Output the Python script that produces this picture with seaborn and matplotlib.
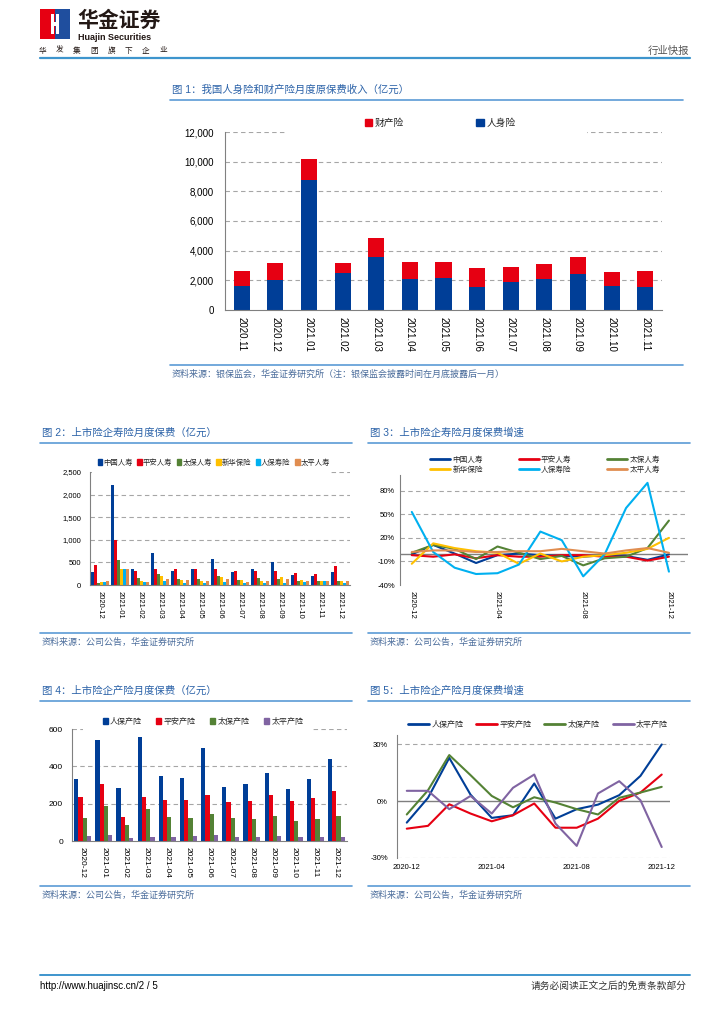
import numpy as np
import pandas as pd
import seaborn as sns
import matplotlib.pyplot as plt
from matplotlib.lines import Line2D
from matplotlib.patches import Rectangle, Patch
from matplotlib.ticker import FuncFormatter

sns.set_style('white')
plt.rcParams['font.family'] = ['Liberation Sans', 'Noto Sans CJK SC', 'DejaVu Sans']
plt.rcParams['axes.unicode_minus'] = False

# ---- data ----
months1 = ['2020.11', '2020.12', '2021.01', '2021.02', '2021.03', '2021.04', '2021.05',
           '2021.06', '2021.07', '2021.08', '2021.09', '2021.10', '2021.11']
life1 = [1620, 2030, 8740, 2480, 3600, 2095, 2140, 1555, 1915, 2095, 2430, 1600, 1555]
prop1 = [1015, 1120, 1440, 720, 1240, 1170, 1105, 1260, 1015, 1035, 1130, 990, 1080]

months2 = ['2020-12', '2021-01', '2021-02', '2021-03', '2021-04', '2021-05', '2021-06',
           '2021-07', '2021-08', '2021-09', '2021-10', '2021-11', '2021-12']
life_cos = ['中国人寿', '平安人寿', '太保人寿', '新华保险', '人保寿险', '太平人寿']
prem_china = [290, 2210, 360, 713, 301, 346, 574, 279, 360, 500, 220, 198, 279]
prem_pingan = [434, 1000, 316, 353, 346, 346, 346, 316, 309, 316, 272, 250, 412]
prem_cpic = [55, 559, 154, 235, 125, 140, 206, 103, 147, 140, 96, 96, 81]
prem_nci = [75, 350, 96, 191, 103, 81, 184, 103, 88, 176, 103, 96, 81]
prem_picc = [66, 355, 66, 88, 44, 44, 74, 51, 51, 51, 59, 81, 51]
prem_taiping = [81, 360, 59, 140, 110, 96, 140, 59, 81, 125, 81, 81, 81]

gr_china = [-1, 11, 0, -12, -2, 0, -2, -3, -4, -2, -3, -8, -1]
gr_pingan = [-2, -4, -1, -6, -2, -4, -4, -2, -2, -4, -4, -9, -4]
gr_cpic = [1, 11, 6, -7, 9, 1, -7, -3, -15, -6, -4, 7, 42]
gr_nci = [-13, 13, 7, 3, 1, -13, 0, -10, -4, -2, 1, 6, 20]
gr_picc = [53, 2, -18, -26, -25, -14, 28, 17, -29, -1, 58, 90, -23]
gr_taiping = [2, 4, 4, 2, 2, 3, 3, 6, 3, 0, 4, 7, 1]

pc_cos = ['人保产险', '平安产险', '太保产险', '太平产险']
pc_picc = [333, 539, 283, 555, 346, 338, 498, 288, 304, 364, 278, 331, 439]
pc_pingan = [238, 306, 131, 238, 218, 218, 245, 210, 213, 245, 213, 231, 270]
pc_cpic = [125, 188, 84, 170, 129, 122, 145, 122, 118, 133, 107, 118, 134]
pc_taiping = [27, 32, 16, 23, 23, 27, 32, 23, 20, 27, 23, 23, 23]

pcg_picc = [-11.3, 1.8, 22.9, 3.5, -8.8, -7.4, 9.4, -9.2, -4.2, -1.8, 3.2, 13.4, 30.0]
pcg_pingan = [-14.5, -13.0, -1.6, -6.5, -10.6, -7.4, -1.2, -14.0, -14.0, -9.2, 0.2, 4.6, 14.1]
pcg_cpic = [-7.0, 5.8, 24.4, 13.8, 2.8, -3.2, 2.1, -0.7, -4.2, -7.0, 1.8, 4.6, 7.6]
pcg_taiping = [5.5, 5.5, -4.2, 2.8, -6.5, 7.1, 14.1, -11.8, -23.6, 4.1, 10.6, 0.5, -24.2]

sparse_ticks = ['2020-12', '2021-04', '2021-08', '2021-12']

# ---- colours ----
BLUE = '#003E97'
RED = '#E60012'
GREEN = '#548235'
YELLOW = '#FFC000'
CYAN = '#00B0F0'
ORANGE = '#E08D50'
PURPLE = '#8064A2'
LINE_BLUE = '#5B9BD5'
TITLE_C = '#2B62A8'
SRC_C = '#4A6C9B'
GRID_C = '#A6A6A6'
AX_C = '#808080'

life_pal = dict(zip(life_cos, [BLUE, RED, GREEN, YELLOW, CYAN, ORANGE]))
pc_pal = dict(zip(pc_cos, [BLUE, RED, GREEN, PURPLE]))

W, H = 724, 1024
fig = plt.figure(figsize=(W / 100, H / 100), dpi=100)


def box(l, t, r, b):
    return fig.add_axes([l / W, 1 - b / H, (r - l) / W, (b - t) / H])


def hline(x0, x1, y, color=LINE_BLUE, lw=1.2):
    fig.add_artist(Line2D([x0 / W, x1 / W], [1 - y / H, 1 - y / H], color=color, lw=lw))


def ftext(x, y, s, **kw):
    kw.setdefault('va', 'center')
    fig.text(x / W, 1 - y / H, s, **kw)


def mask(x0, x1, y, h=4):
    fig.add_artist(Rectangle((x0 / W, 1 - (y + h / 2) / H), (x1 - x0) / W, h / H,
                             facecolor='white', edgecolor='none', zorder=2))


def flegend(handles, labels, x, y, ncol, **kw):
    return fig.legend(handles, labels, loc='center', bbox_to_anchor=(x / W, 1 - y / H),
                      ncol=ncol, frameon=False, **kw)


def style_axes(ax, fs, ypad):
    for s in ['top', 'right']:
        ax.spines[s].set_visible(False)
    for s in ['left', 'bottom']:
        ax.spines[s].set_color(AX_C)
        ax.spines[s].set_linewidth(0.8)
    ax.set_xlabel('')
    ax.set_ylabel('')
    ax.tick_params(axis='y', length=0, pad=ypad, labelsize=fs, colors='black')
    ax.tick_params(axis='x', length=0, labelsize=fs, colors='black')


def dash_grid(ax, levels):
    for v in levels:
        ax.axhline(v, color=GRID_C, lw=0.8, ls=(0, (4, 3)), zorder=0.5)


def block(xl, xr, t_y, title, src_y, src):
    ftext(xl + 2, t_y, title, fontsize=7.5, color=TITLE_C)
    hline(xl, xr, t_y + 10)
    hline(xl, xr, src_y)
    ftext(xl + 2, src_y + 9, src, fontsize=6.5, color=SRC_C, style='italic')


# ---- header / footer ----
fig.add_artist(Rectangle((40 / W, 1 - 39 / H), 15 / W, 30 / H, facecolor='#E60012', edgecolor='none'))
fig.add_artist(Rectangle((55 / W, 1 - 39 / H), 15 / W, 30 / H, facecolor='#1F4E9E', edgecolor='none'))
fig.add_artist(Rectangle((51 / W, 1 - 34 / H), 3 / W, 20 / H, facecolor='white', edgecolor='none'))
fig.add_artist(Rectangle((56 / W, 1 - 34 / H), 3 / W, 20 / H, facecolor='white', edgecolor='none'))
fig.add_artist(Rectangle((51 / W, 1 - 26 / H), 8 / W, 4 / H, facecolor='white', edgecolor='none'))
ftext(77, 21, '华金证券', fontsize=15, weight='bold', color='#231815')
ftext(78, 37, 'Huajin Securities', fontsize=6.5, weight='bold', color='#231815')
for i, ch in enumerate('华发集团旗下企业'):
    ftext(42 + i * 17.3, 51, ch, fontsize=5.5, color='#231815', ha='center')
ftext(689, 51, '行业快报', fontsize=7.5, color='#555555', ha='right')
hline(40, 690, 58, color='#3E95CD', lw=1.6)

hline(40, 690, 975, color='#3E95CD', lw=1.4)
ftext(40, 986, 'http://www.huajinsc.cn/2 / 5', fontsize=7, color='black')
ftext(687, 986, '请务必阅读正文之后的免责条款部分', fontsize=7, color='#333333', ha='right')

# ---- figure 1 ----
block(170, 683, 90, '图 1：我国人身险和财产险月度原保费收入（亿元）', 365,
      '资料来源：银保监会，华金证券研究所（注：银保监会披露时间在月底披露后一月）')
ax1 = box(225, 132, 662, 310)
df1 = pd.DataFrame({'month': months1, 'life': life1, 'prop': prop1})
df1['total'] = df1['life'] + df1['prop']
sns.barplot(data=df1, x='month', y='total', color=RED, width=0.48, saturation=1,
            errorbar=None, linewidth=0, ax=ax1, zorder=2)
sns.barplot(data=df1, x='month', y='life', color=BLUE, width=0.48, saturation=1,
            errorbar=None, linewidth=0, ax=ax1, zorder=2)
ax1.set_xlim(-0.5, 12.5)
ax1.set_ylim(0, 12000)
ax1.set_yticks(range(0, 12001, 2000))
ax1.yaxis.set_major_formatter(FuncFormatter(lambda v, p: f'{int(v):,}'))
dash_grid(ax1, range(2000, 12001, 2000))
style_axes(ax1, 7, 8)
ax1.set_xticks(range(len(months1)))
ax1.set_xticklabels(months1, rotation=270)
ax1.tick_params(axis='x', pad=5)
ax1.set_xticks(np.arange(-0.5, 13, 1), minor=True)
ax1.tick_params(axis='x', which='minor', length=3, color=AX_C, direction='out')
mask(287, 587, 132)
flegend([Patch(color=RED), Patch(color=BLUE)], ['财产险', '人身险'], 440, 123, 2,
        fontsize=7, handlelength=0.8, handleheight=0.8, handletextpad=0.2,
        columnspacing=7.5)

# ---- figure 2 ----
block(40, 352, 433, '图 2：上市险企寿险月度保费（亿元）', 633, '资料来源：公司公告，华金证券研究所')
ax2 = box(90, 472, 350, 585)
df2 = pd.DataFrame({'month': months2, '中国人寿': prem_china, '平安人寿': prem_pingan,
                    '太保人寿': prem_cpic, '新华保险': prem_nci, '人保寿险': prem_picc,
                    '太平人寿': prem_taiping})
df2 = df2.melt(id_vars='month', var_name='company', value_name='value')
sns.barplot(data=df2, x='month', y='value', hue='company', hue_order=life_cos,
            palette=life_pal, width=0.86, saturation=1, errorbar=None, legend=False,
            linewidth=0, ax=ax2, zorder=2)
ax2.set_xlim(-0.5, 12.5)
ax2.set_ylim(0, 2500)
ax2.set_yticks(range(0, 2501, 500))
ax2.yaxis.set_major_formatter(FuncFormatter(lambda v, p: f'{int(v):,}'))
dash_grid(ax2, range(500, 2501, 500))
style_axes(ax2, 5.5, 6.5)
ax2.set_xticks(range(len(months2)))
ax2.set_xticklabels(months2, rotation=270)
ax2.tick_params(axis='x', pad=4)
mask(92, 330, 472)
flegend([Patch(color=life_pal[c]) for c in life_cos], life_cos, 214, 463, 6,
        fontsize=5.3, handlelength=0.6, handleheight=0.8, handletextpad=0.15,
        columnspacing=0.6)

# ---- figure 3 ----
block(368, 690, 433, '图 3：上市险企寿险月度保费增速', 633, '资料来源：公司公告，华金证券研究所')
ax3 = box(400, 475, 688, 585)
df3 = pd.DataFrame({'t': range(len(months2)), '中国人寿': gr_china, '平安人寿': gr_pingan,
                    '太保人寿': gr_cpic, '新华保险': gr_nci, '人保寿险': gr_picc,
                    '太平人寿': gr_taiping})
df3 = df3.melt(id_vars='t', var_name='company', value_name='value')
dash_grid(ax3, [-10, 20, 50, 80])
ax3.axhline(0, color='#7F7F7F', lw=1.0, zorder=1)
sns.lineplot(data=df3, x='t', y='value', hue='company', hue_order=life_cos,
             palette=life_pal, linewidth=1.5, legend=False, ax=ax3, zorder=3)
ax3.set_xlim(-0.55, 12.89)
ax3.set_ylim(-40, 100)
ax3.set_yticks([-40, -10, 20, 50, 80])
ax3.yaxis.set_major_formatter(FuncFormatter(lambda v, p: f'{int(v)}%'))
style_axes(ax3, 5.5, 3.5)
ax3.spines['bottom'].set_visible(False)
ax3.set_xticks([0, 4, 8, 12])
ax3.set_xticklabels(sparse_ticks, rotation=270)
ax3.tick_params(axis='x', pad=4)
order3 = ['中国人寿', '新华保险', '平安人寿', '人保寿险', '太保人寿', '太平人寿']
flegend([Line2D([], [], color=life_pal[c], lw=2) for c in order3], order3, 545, 465, 3,
        fontsize=5.5, handlelength=2.6, handletextpad=0.3, columnspacing=4.7,
        labelspacing=0.25)

# ---- figure 4 ----
block(40, 352, 691, '图 4：上市险企产险月度保费（亿元）', 886, '资料来源：公司公告，华金证券研究所')
ax4 = box(72, 729, 347, 841)
df4 = pd.DataFrame({'month': months2, '人保产险': pc_picc, '平安产险': pc_pingan,
                    '太保产险': pc_cpic, '太平产险': pc_taiping})
df4 = df4.melt(id_vars='month', var_name='company', value_name='value')
sns.barplot(data=df4, x='month', y='value', hue='company', hue_order=pc_cos,
            palette=pc_pal, width=0.8, saturation=1, errorbar=None, legend=False,
            linewidth=0, ax=ax4, zorder=2)
ax4.set_xlim(-0.5, 12.5)
ax4.set_ylim(0, 600)
ax4.set_yticks([0, 200, 400, 600])
dash_grid(ax4, [200, 400, 600])
style_axes(ax4, 6, 6.5)
ax4.set_xticks(range(len(months2)))
ax4.set_xticklabels(months2, rotation=270)
ax4.tick_params(axis='x', pad=4)
mask(83, 312, 729)
flegend([Patch(color=pc_pal[c]) for c in pc_cos], pc_cos, 203, 722, 4,
        fontsize=5.8, handlelength=0.6, handleheight=0.8, handletextpad=0.3,
        columnspacing=1.8)

# ---- figure 5 ----
block(368, 690, 691, '图 5：上市险企产险月度保费增速', 886, '资料来源：公司公告，华金证券研究所')
ax5 = box(397, 735, 670, 858)
df5 = pd.DataFrame({'t': range(len(months2)), '人保产险': pcg_picc, '平安产险': pcg_pingan,
                    '太保产险': pcg_cpic, '太平产险': pcg_taiping})
df5 = df5.melt(id_vars='t', var_name='company', value_name='value')
dash_grid(ax5, [-30, 30])
ax5.axhline(0, color='#7F7F7F', lw=1.0, zorder=1)
sns.lineplot(data=df5, x='t', y='value', hue='company', hue_order=pc_cos,
             palette=pc_pal, linewidth=1.5, legend=False, ax=ax5, zorder=3)
ax5.set_xlim(-0.46, 12.39)
ax5.set_ylim(-30, 35)
ax5.set_yticks([-30, 0, 30])
ax5.yaxis.set_major_formatter(FuncFormatter(lambda v, p: f'{int(v)}%'))
style_axes(ax5, 5.5, 6.5)
ax5.spines['bottom'].set_visible(False)
ax5.set_xticks([0, 4, 8, 12])
ax5.set_xticklabels(sparse_ticks)
ax5.tick_params(axis='x', pad=4)
flegend([Line2D([], [], color=pc_pal[c], lw=2) for c in pc_cos], pc_cos, 538, 725, 4,
        fontsize=5.8, handlelength=2.6, handletextpad=0.3, columnspacing=1.6)

fig.savefig('out.png', dpi=100, facecolor='white')
